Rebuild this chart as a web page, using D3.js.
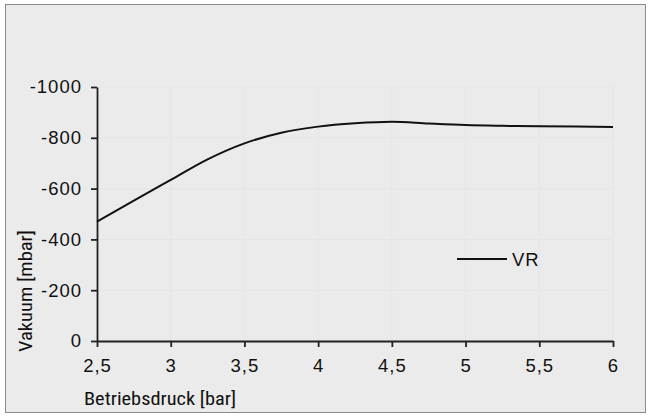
<!DOCTYPE html>
<html><head><meta charset="utf-8">
<script src="https://cdn.jsdelivr.net/npm/d3@7"></script>
<style>body{margin:0;background:#fff}</style>
</head><body><svg id="c" width="649" height="416"></svg>
<script>
const pressure = [2.5, 2.75, 3, 3.25, 3.5, 3.75, 4, 4.25, 4.5, 4.75, 5, 5.25, 5.5, 5.75, 6];
const vacuumVR = [-470, -553, -634, -715, -778, -820, -844, -857, -863, -856, -850, -847, -845, -844, -843];
const xTicks = [2.5, 3, 3.5, 4, 4.5, 5, 5.5, 6];
const yTicks = [0, -200, -400, -600, -800, -1000];
const seriesName = "VR";

const svg = d3.select("#c");
svg.append("rect").attr("x",5.5).attr("y",4.5).attr("width",640).attr("height",408)
  .attr("fill","#ebebeb").attr("stroke","#8a8a8a").attr("stroke-width",1);

const L=97, R=613, T=87, B=341;
const x = d3.scaleLinear().domain([2.5,6]).range([L,R]);
const y = d3.scaleLinear().domain([0,-1000]).range([B,T]);

const g = svg.append("g");
g.selectAll(".gx").data(xTicks.slice(1)).join("line").attr("x1",d=>x(d)).attr("x2",d=>x(d))
  .attr("y1",T).attr("y2",B).attr("stroke","#e5e5e5");
g.selectAll(".gy").data(yTicks.slice(1)).join("line").attr("x1",L).attr("x2",R)
  .attr("y1",d=>y(d)).attr("y2",d=>y(d)).attr("stroke","#e5e5e5");

const tickFont = "'Liberation Sans', Arial, sans-serif";
const fmt = d => String(d).replace(".", ",");
const xa = svg.append("g").attr("transform",`translate(0,${B})`)
  .call(d3.axisBottom(x).tickValues(xTicks).tickSize(6).tickSizeOuter(0).tickFormat(fmt).tickPadding(12));
const ya = svg.append("g").attr("transform",`translate(${L},0)`)
  .call(d3.axisLeft(y).tickValues(yTicks).tickSize(6).tickSizeOuter(0).tickFormat(d=>String(d)).tickPadding(9));
[xa,ya].forEach(a=>{
  a.select(".domain").attr("stroke","#222").attr("stroke-width",1.8);
  a.selectAll(".tick line").attr("stroke","#222").attr("stroke-width",1.8);
  a.selectAll("text").style("font-family",tickFont).style("font-size","18.5px").style("letter-spacing","1px").attr("fill","#111");
});

const line = d3.line().x((d,i)=>x(pressure[i])).y(d=>y(d)).curve(d3.curveMonotoneX);
svg.append("path").datum(vacuumVR).attr("d",line).attr("fill","none").attr("stroke","#111")
  .attr("stroke-width",2).attr("stroke-linejoin","round");

svg.append("line").attr("x1",457).attr("x2",507).attr("y1",259).attr("y2",259).attr("stroke","#111").attr("stroke-width",2);
svg.append("text").attr("x",512).attr("y",266).text(seriesName)
  .style("font-family",tickFont).style("font-size","18.5px").style("letter-spacing","1px").attr("fill","#111");

const titleFont = "'Roboto Condensed', 'DejaVu Sans Condensed', sans-serif";
svg.append("text").attr("x",84).attr("y",405).text("Betriebsdruck [bar]")
  .attr("textLength",152).attr("lengthAdjust","spacingAndGlyphs")
  .style("font-family",titleFont).style("font-size","19px").attr("fill","#111");
svg.append("text").attr("transform","translate(32,291) rotate(-90)").attr("text-anchor","middle").text("Vakuum [mbar]")
  .attr("textLength",122).attr("lengthAdjust","spacingAndGlyphs")
  .style("font-family",titleFont).style("font-size","19px").attr("fill","#111");
</script></body></html>
